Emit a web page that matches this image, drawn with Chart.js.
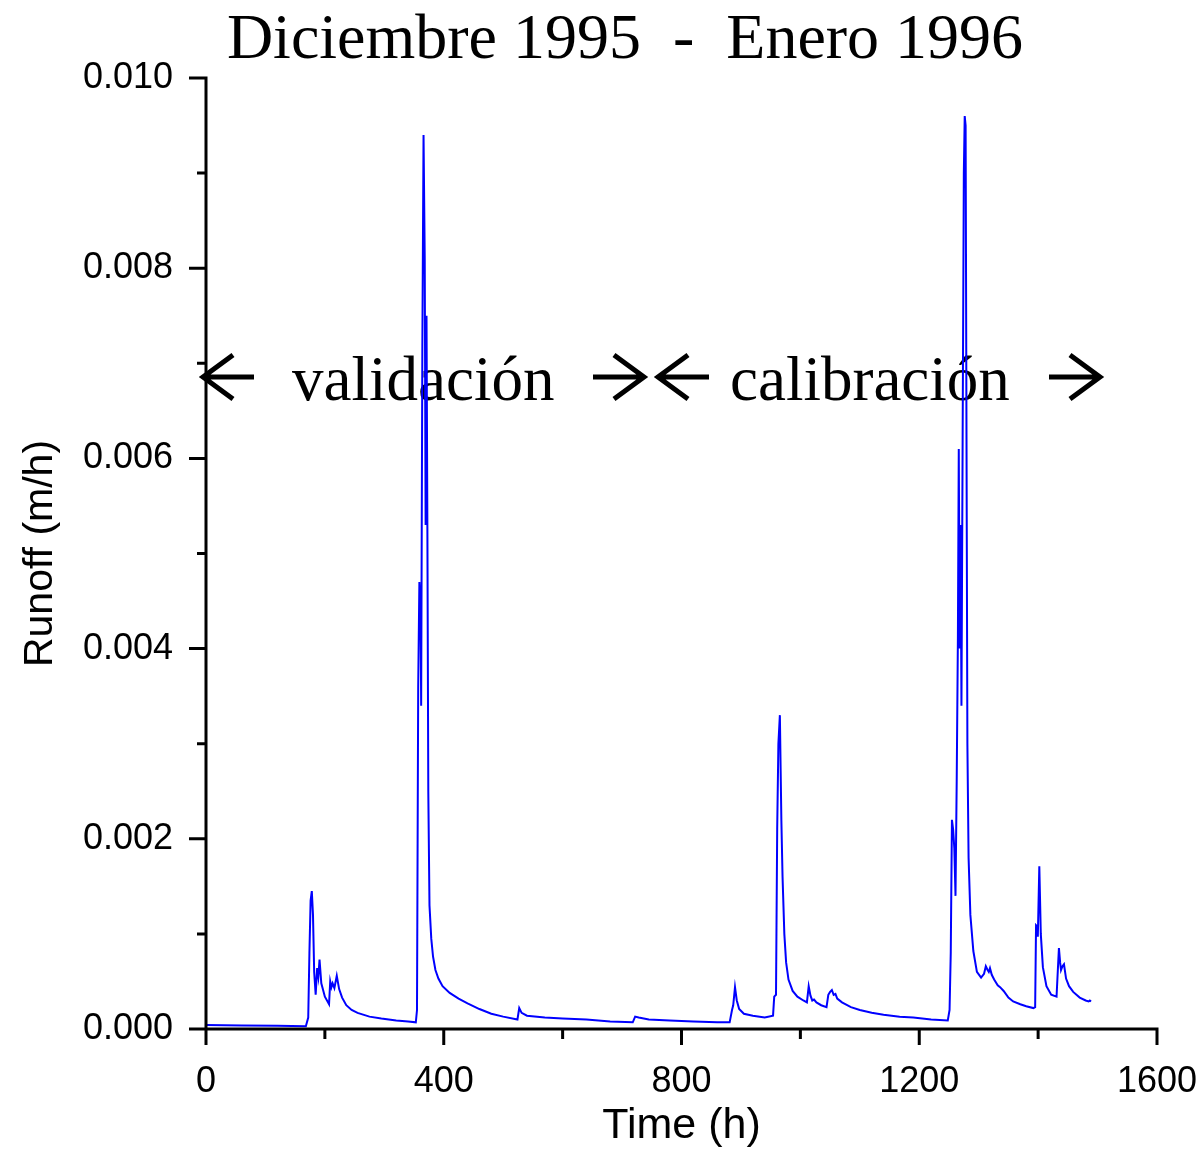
<!DOCTYPE html>
<html>
<head>
<meta charset="utf-8">
<script src="https://cdn.jsdelivr.net/npm/chart.js@4.4.1/dist/chart.umd.min.js"></script>
<style>
    html, body { margin: 0; padding: 0; background: #fff; }
</style>
</head>
<body>
<canvas id="runoff-chart" width="1202" height="1149"></canvas>
<script>
// hours since 1 Dec 1995
const timeH = [
    0, 60, 120, 168, 172, 174, 176, 178, 180, 182, 184.5, 187, 189, 191, 194, 200,
    207, 209, 211, 213, 216, 220, 224, 229, 236, 245, 255, 275, 295, 320, 340, 353,
    355, 357, 359, 361, 362, 364, 366, 368, 369.5, 371, 372.5, 374, 376, 379, 382, 386,
    391, 398, 410, 425, 440, 460, 480, 500, 524, 527, 531, 540, 570, 600, 640, 680,
    718, 722, 728, 745, 780, 820, 860, 881, 885, 887, 890, 893, 897, 905, 920, 940,
    954, 956, 959, 961, 963, 965.5, 968, 970, 973, 976, 980, 987, 995, 1005, 1011, 1014,
    1017, 1020, 1023, 1027, 1035, 1044, 1047, 1050, 1053, 1056, 1059, 1062, 1070, 1085, 1100, 1120,
    1140, 1167, 1190, 1220, 1248, 1251, 1253, 1255, 1257, 1259, 1261, 1263, 1265, 1266.5, 1268, 1269.5,
    1271, 1273, 1275, 1276.5, 1278, 1279.5, 1281, 1283, 1286, 1291, 1297, 1304, 1309, 1312, 1315, 1317,
    1319, 1322, 1326, 1332, 1336, 1342, 1350, 1358, 1370, 1380, 1392, 1395, 1396.5, 1398, 1399.5, 1402,
    1404.5, 1408, 1414, 1422, 1431, 1433, 1435, 1437, 1438.5, 1441, 1443.5, 1447, 1452, 1459, 1470, 1480,
    1485, 1487, 1489
];

// runoff, m/h
const runoff = [
    0.000042, 0.000038, 0.000034, 0.000030, 0.00012, 0.0008, 0.00135, 0.00145, 0.0012, 0.0006, 0.00036, 0.00064, 0.00055, 0.00073, 0.00048, 0.00034,
    0.00026, 0.0005, 0.00044, 0.00048, 0.00043, 0.00056, 0.00042, 0.00033, 0.00025, 0.0002, 0.00017, 0.00013, 0.00011, 0.00009, 0.00008, 0.00007,
    0.0002, 0.0036, 0.0047, 0.0044, 0.0034, 0.0072, 0.0094, 0.0081, 0.0053, 0.0075, 0.0052, 0.0025, 0.0013, 0.00095, 0.00076, 0.00062,
    0.00053, 0.00045, 0.00038, 0.00032, 0.00027, 0.00021, 0.00016, 0.00013, 0.0001, 0.00022, 0.00017, 0.00014, 0.00012, 0.00011, 0.0001, 0.00008,
    0.00007, 0.00013, 0.00012, 0.0001, 0.00009, 0.00008, 0.00007, 0.00007, 0.0002, 0.00025, 0.00044, 0.0003, 0.00021, 0.00016, 0.00014, 0.00012,
    0.00014, 0.00034, 0.00036, 0.0021, 0.003, 0.0033, 0.0022, 0.0016, 0.001, 0.0007, 0.00052, 0.0004, 0.00034, 0.0003, 0.00028, 0.00045,
    0.00035, 0.0003, 0.00031, 0.00028, 0.00025, 0.00023, 0.00036, 0.00039, 0.00041, 0.00036, 0.00037, 0.00032, 0.00028, 0.00023, 0.0002, 0.00017,
    0.00015, 0.00013, 0.00012, 0.0001, 0.00009, 0.0002, 0.0008, 0.0022, 0.0021, 0.0019, 0.0014, 0.0026, 0.0041, 0.0061, 0.004, 0.0053,
    0.0034, 0.0062, 0.009, 0.0096, 0.0095, 0.0062, 0.003, 0.0018, 0.0012, 0.00082, 0.0006, 0.00054, 0.00058, 0.00066, 0.00062, 0.0006,
    0.00064, 0.00057, 0.00052, 0.00046, 0.00044, 0.0004, 0.00033, 0.00029, 0.00026, 0.00024, 0.00022, 0.00023, 0.00109, 0.00108, 0.00097, 0.00171,
    0.001, 0.00065, 0.00045, 0.00036, 0.00034, 0.0006, 0.00085, 0.0007, 0.00062, 0.00066, 0.00068, 0.00053, 0.00045, 0.00039, 0.00033, 0.0003,
    0.00029, 0.0003, 0.00029
];

const xTicks = [0, 400, 800, 1200, 1600];
const xMinorTicks = [200, 600, 1000, 1400];
const yTicks = [0, 0.002, 0.004, 0.006, 0.008, 0.010];
const yMinorTicks = [0.001, 0.003, 0.005, 0.007, 0.009];

const titleText = 'Diciembre 1995  -  Enero 1996';
const periodLabels = ['validación', 'calibración'];
const xTitle = 'Time (h)';
const yTitle = 'Runoff (m/h)';

const serif = '"Liberation Serif", "Times New Roman", serif';
const sans = '"Liberation Sans", Arial, sans-serif';

const points = timeH.map((t, i) => ({ x: t, y: runoff[i] }));

// open-headed arrow, tip at (tipX, yc); dir -1 points left, +1 points right
function drawArrow(ctx, tipX, yc, dir) {
    ctx.beginPath();
    ctx.moveTo(tipX, yc);
    ctx.lineTo(tipX - dir * 51, yc);
    ctx.moveTo(tipX - dir * 30, yc - 22);
    ctx.lineTo(tipX, yc);
    ctx.lineTo(tipX - dir * 30, yc + 22);
    ctx.stroke();
}

const framePlugin = {
    id: 'framePlugin',
    beforeDatasetsDraw(chart) {
        const ctx = chart.ctx;
        ctx.save();
        ctx.fillStyle = '#000';
        ctx.font = '63px ' + serif;
        ctx.textBaseline = 'alphabetic';
        ctx.textAlign = 'left';
        ctx.fillText(periodLabels[0], 292, 400);
        ctx.fillText(periodLabels[1], 730, 400);

        ctx.strokeStyle = '#000';
        ctx.lineWidth = 5;
        ctx.lineCap = 'butt';
        ctx.lineJoin = 'miter';
        drawArrow(ctx, 203, 377, -1);
        drawArrow(ctx, 644, 377, 1);
        drawArrow(ctx, 658, 377, -1);
        drawArrow(ctx, 1100, 377, 1);
        ctx.restore();
    },
    afterDraw(chart) {
        const { ctx, scales: { x, y } } = chart;
        const x0 = x.getPixelForValue(0);
        const x1 = x.getPixelForValue(1600);
        const y0 = y.getPixelForValue(0);
        const y1 = y.getPixelForValue(0.010);

        ctx.save();
        ctx.strokeStyle = '#000';
        ctx.lineWidth = 3;
        ctx.beginPath();
        ctx.moveTo(x0 - 17, y0);
        ctx.lineTo(x1 + 1.5, y0);
        ctx.moveTo(x0, y0 + 1.5);
        ctx.lineTo(x0, y1 - 1.5);
        yTicks.forEach((v) => {
            const p = y.getPixelForValue(v);
            ctx.moveTo(x0 - 17, p);
            ctx.lineTo(x0, p);
        });
        yMinorTicks.forEach((v) => {
            const p = y.getPixelForValue(v);
            ctx.moveTo(x0 - 9, p);
            ctx.lineTo(x0, p);
        });
        xTicks.forEach((v) => {
            const p = x.getPixelForValue(v);
            ctx.moveTo(p, y0);
            ctx.lineTo(p, y0 + 16);
        });
        xMinorTicks.forEach((v) => {
            const p = x.getPixelForValue(v);
            ctx.moveTo(p, y0);
            ctx.lineTo(p, y0 + 10);
        });
        ctx.stroke();

        ctx.fillStyle = '#000';
        ctx.font = '64px ' + serif;
        ctx.textAlign = 'center';
        ctx.textBaseline = 'alphabetic';
        ctx.fillText(titleText, 625, 58);
        ctx.restore();
    },
};

new Chart(document.getElementById('runoff-chart'), {
    type: 'scatter',
    data: {
        datasets: [{
            label: 'Runoff',
            data: points,
            showLine: true,
            borderColor: '#0000ff',
            borderWidth: 2,
            pointRadius: 0,
            tension: 0,
        }],
    },
    options: {
        responsive: false,
        animation: false,
        layout: { padding: { top: 78, right: 45, left: 0, bottom: 0 } },
        plugins: { legend: { display: false }, tooltip: { enabled: false } },
        scales: {
            x: {
                type: 'linear',
                min: 0,
                max: 1600,
                afterBuildTicks: (s) => { s.ticks = xTicks.map((v) => ({ value: v })); },
                afterFit: (s) => {
                    s.height = 120;
                    s.paddingLeft = 0;
                    s.paddingRight = 0;
                },
                grid: { display: false, drawTicks: true, tickLength: 16 },
                border: { display: false },
                ticks: {
                    color: '#000',
                    padding: 15,
                    maxRotation: 0,
                    autoSkip: false,
                    font: { family: sans, size: 36 },
                    callback: (v) => String(v),
                },
                title: {
                    display: true,
                    text: xTitle,
                    color: '#000',
                    font: { family: sans, size: 43, lineHeight: 1 },
                    padding: 1,
                },
            },
            y: {
                type: 'linear',
                min: 0,
                max: 0.010,
                afterBuildTicks: (s) => { s.ticks = yTicks.map((v) => ({ value: v })); },
                afterFit: (s) => {
                    s.width = 206;
                    s.paddingTop = 0;
                    s.paddingBottom = 0;
                },
                grid: { display: false, drawTicks: true, tickLength: 17 },
                border: { display: false },
                ticks: {
                    color: '#000',
                    padding: 16,
                    autoSkip: false,
                    font: { family: sans, size: 36 },
                    callback: (v) => Number(v).toFixed(3),
                },
                title: {
                    display: true,
                    text: yTitle,
                    color: '#000',
                    font: { family: sans, size: 41, lineHeight: 1 },
                    padding: 20,
                },
            },
        },
    },
    plugins: [framePlugin],
});
</script>
</body>
</html>
